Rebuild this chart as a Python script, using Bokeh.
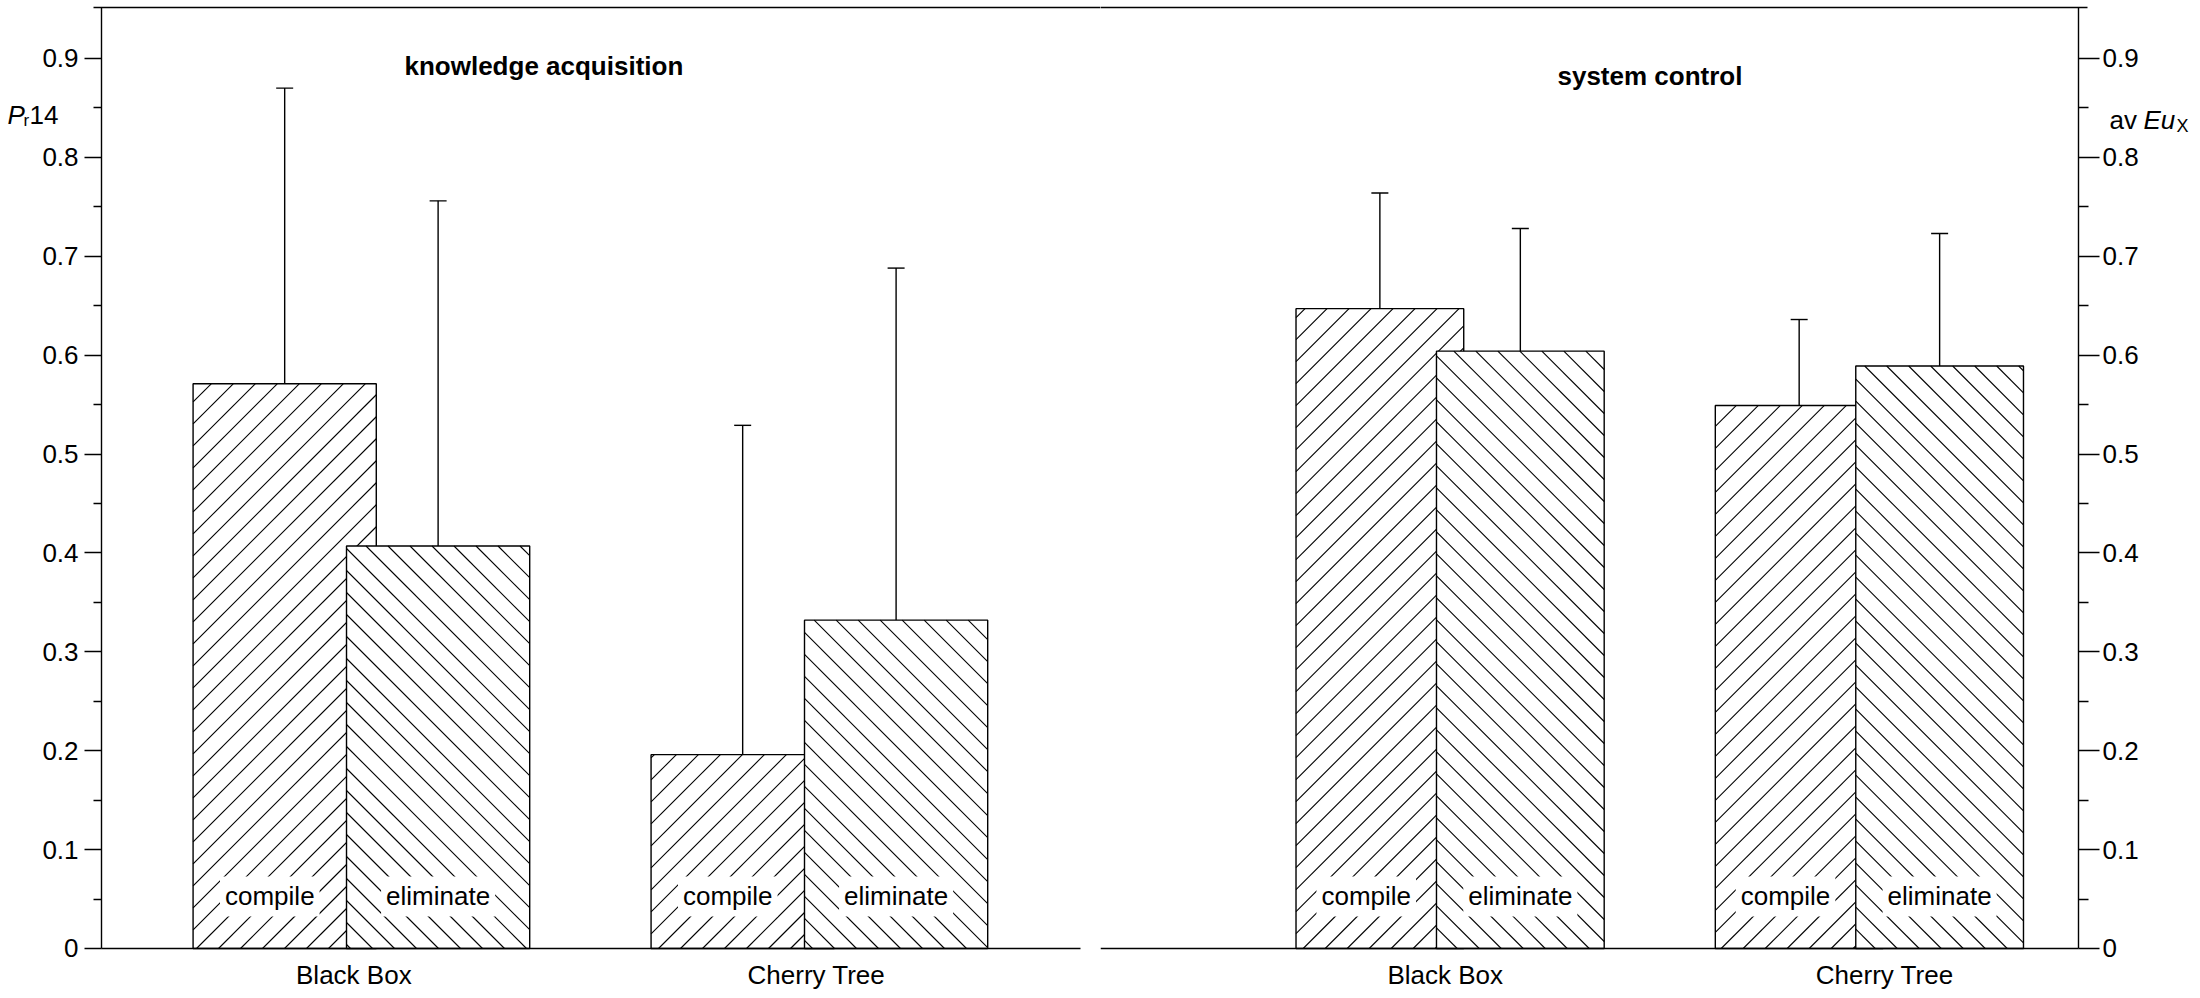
import math
from bokeh.plotting import figure
from bokeh.layouts import row
from bokeh.models import (Range1d, LinearAxis, FixedTicker, CustomJSTickFormatter,
                          ColumnDataSource, Whisker, TeeHead, Label)
from bokeh.embed import file_html
from bokeh.resources import INLINE

# ---------------- data ----------------
groups = ["Black Box", "Cherry Tree"]
conditions = ["compile", "eliminate"]
panels = ["knowledge acquisition", "system control"]

ka_compile = [0.571, 0.196]
ka_compile_upper = [0.870, 0.529]
ka_eliminate = [0.407, 0.332]
ka_eliminate_upper = [0.756, 0.688]

sc_compile = [0.647, 0.549]
sc_compile_upper = [0.764, 0.636]
sc_eliminate = [0.604, 0.589]
sc_eliminate_upper = [0.728, 0.723]

y_ticks = [0.0, 0.1, 0.2, 0.3, 0.4, 0.5, 0.6, 0.7, 0.8, 0.9]
y_tick_labels = ["0", "0.1", "0.2", "0.3", "0.4", "0.5", "0.6", "0.7", "0.8", "0.9"]
y_minor = [0.05, 0.15, 0.25, 0.35, 0.45, 0.55, 0.65, 0.75, 0.85]

FONT = "Liberation Sans"
FS = "26px"
BAR_W = 0.40
OFF_C = -0.135
OFF_E = 0.20
Y_START = -0.04247
Y_END = 0.9515
FRAME_H = 983
HATCH_SP = 22  # horizontal spacing of the 45-degree hatch lines, px
TXT_UP = 0.0075  # small upward nudge for text labels


def hatch_lines(lefts, tops, kx, ky, direction):
    """45-degree hatch segments clipped to each bar (bar extents from the data)."""
    x0, y0, x1, y1 = [], [], [], []
    sp = HATCH_SP
    for xl, t in zip(lefts, tops):
        X0, X1 = xl * kx, (xl + BAR_W) * kx
        Y0, Y1 = 0.0, t * ky
        if direction == "/":
            kmin = math.ceil((Y0 - X1) / sp)
            kmax = math.floor((Y1 - X0) / sp)
            for k in range(kmin, kmax + 1):
                c = k * sp
                xa, xb = max(X0, Y0 - c), min(X1, Y1 - c)
                if xb - xa > 0.5:
                    x0.append(xa / kx); y0.append((xa + c) / ky)
                    x1.append(xb / kx); y1.append((xb + c) / ky)
        else:
            kmin = math.ceil((X0 + Y0) / sp)
            kmax = math.floor((X1 + Y1) / sp)
            for k in range(kmin, kmax + 1):
                c = k * sp
                xa, xb = max(X0, c - Y1), min(X1, c - Y0)
                if xb - xa > 0.5:
                    x0.append(xa / kx); y0.append((c - xa) / ky)
                    x1.append(xb / kx); y1.append((c - xb) / ky)
    return dict(x0=x0, y0=y0, x1=x1, y1=y1)


def make_panel(title, comp, comp_up, elim, elim_up, xs, xe, fw, side,
               yaxis_at, xbounds, tbounds, tick_shift, title_x, title_y):
    p = figure(frame_width=fw, frame_height=FRAME_H,
               x_range=Range1d(xs, xe), y_range=Range1d(Y_START, Y_END),
               output_backend="svg", toolbar_location=None,
               x_axis_location=None, y_axis_location=None,
               min_border_left=0, min_border_right=0,
               min_border_top=7, min_border_bottom=0,
               outline_line_color=None, background_fill_color="white",
               border_fill_color="white")
    p.grid.grid_line_color = None
    kx = fw / (xe - xs)
    ky = FRAME_H / (Y_END - Y_START)

    # y axis, pinned at a fixed x position inside the frame
    yax = LinearAxis(
        ticker=FixedTicker(ticks=y_ticks, minor_ticks=y_minor),
        formatter=CustomJSTickFormatter(args=dict(labels=y_tick_labels),
                                        code="return labels[Math.round(tick*10)];"),
        fixed_location=yaxis_at, bounds=(0, Y_END))
    yax.axis_line_color = "black"
    yax.axis_line_width = 1.4
    yax.major_tick_line_color = "black"
    yax.minor_tick_line_color = "black"
    yax.major_tick_line_width = 1.4
    yax.minor_tick_line_width = 1.4
    yax.major_tick_in = 0
    yax.minor_tick_in = 0
    if side == "left":
        yax.major_tick_out = 17
        yax.minor_tick_out = 8
        yax.major_label_standoff = 6
    else:
        yax.major_tick_out = 21
        yax.minor_tick_out = 10
        yax.major_label_standoff = 3
    yax.major_label_text_font = FONT
    yax.major_label_text_font_size = FS
    yax.major_label_text_color = "black"
    p.add_layout(yax, side)

    # x axis (category labels), pinned at y = 0
    xt = [1 + tick_shift[0], 2 + tick_shift[1]]
    xax = LinearAxis(
        ticker=FixedTicker(ticks=xt, minor_ticks=[]),
        formatter=CustomJSTickFormatter(args=dict(labels=groups),
                                        code="return labels[Math.round(tick)-1];"),
        bounds=xbounds, fixed_location=0)
    xax.axis_line_color = "black"
    xax.axis_line_width = 1.4
    xax.major_tick_in = 0
    xax.major_tick_out = 0
    xax.minor_tick_in = 0
    xax.minor_tick_out = 0
    xax.major_label_standoff = 12
    xax.major_label_text_font = FONT
    xax.major_label_text_font_size = FS
    xax.major_label_text_color = "black"
    p.add_layout(xax, "below")

    # top border line
    tax = LinearAxis(ticker=FixedTicker(ticks=[], minor_ticks=[]), bounds=tbounds)
    tax.axis_line_color = "black"
    tax.axis_line_width = 1.4
    tax.major_tick_in = 0
    tax.major_tick_out = 0
    tax.minor_tick_in = 0
    tax.minor_tick_out = 0
    tax.major_label_text_font_size = "0px"
    tax.major_label_standoff = 0
    p.add_layout(tax, "above")

    gx = [1, 2]
    xc = [g + OFF_C for g in gx]
    xe_ = [g + OFF_E for g in gx]

    # compile bars (hatch "/"), then eliminate bars (hatch "\") drawn over them
    p.vbar(x=xc, width=BAR_W, bottom=0, top=comp, fill_color="white",
           line_color="black", line_width=1.4)
    p.segment(x0="x0", y0="y0", x1="x1", y1="y1", line_color="black", line_width=1.1,
              source=ColumnDataSource(hatch_lines([v - BAR_W / 2 for v in xc], comp,
                                                  kx, ky, "/")))
    p.vbar(x=xe_, width=BAR_W, bottom=0, top=elim, fill_color="white",
           line_color="black", line_width=1.4)
    p.segment(x0="x0", y0="y0", x1="x1", y1="y1", line_color="black", line_width=1.1,
              source=ColumnDataSource(hatch_lines([v - BAR_W / 2 for v in xe_], elim,
                                                  kx, ky, "\\")))

    for xs_, lo, up in ((xc, comp, comp_up), (xe_, elim, elim_up)):
        src = ColumnDataSource(dict(base=xs_, lower=lo, upper=up))
        w = Whisker(base="base", lower="lower", upper="upper", source=src,
                    line_color="black", line_width=1.4,
                    upper_head=TeeHead(size=17, line_color="black", line_width=1.4),
                    lower_head=None)
        p.add_layout(w)

    # condition labels inside bars (centred on the visible part of each bar)
    for g in gx:
        comp_left = g + OFF_C - BAR_W / 2
        for cname, cx in ((conditions[0], (comp_left + g) / 2),
                          (conditions[1], g + OFF_E)):
            p.add_layout(Label(x=cx, y=0.0526, text=cname, text_align="center",
                               text_baseline="alphabetic", text_font=FONT,
                               text_font_size=FS, text_color="black",
                               background_fill_color="white", padding=5))

    p.add_layout(Label(x=title_x, y=title_y + TXT_UP, text=title, text_align="left",
                       text_baseline="alphabetic", text_font=FONT,
                       text_font_size=FS, text_font_style="bold",
                       text_color="black"))
    return p


# left panel: knowledge acquisition (1 x-unit = 458 px)
L_XS = 0.2445
L_XE = 2.6463
left = make_panel(panels[0], ka_compile, ka_compile_upper, ka_eliminate,
                  ka_eliminate_upper, L_XS, L_XE, 1100, "left",
                  0.4651, (0.4651, 2.6026), (0.4476, L_XE),
                  (0.016, 0.026), 1.1266, 0.8847)

# right panel: system control (1 x-unit = 419.3 px)
R_XS = 0.1987
R_XE = 2.8031
right = make_panel(panels[1], sc_compile, sc_compile_upper, sc_eliminate,
                   sc_eliminate_upper, R_XS, R_XE, 1092, "right",
                   2.5312, (R_XS, 2.5312), (R_XS, 2.5527),
                   (0.021, 0.069), 1.2886, 0.8746)

# axis titles
for txt, off, yv, size, style in (("P", 7, 0.8352, FS, "italic"),
                                  ("r", 23, 0.8301, "17px", "normal"),
                                  ("14", 29, 0.8352, FS, "normal")):
    left.add_layout(Label(x=L_XS, y=yv + TXT_UP, x_offset=off, text=txt,
                          text_align="left", text_baseline="alphabetic",
                          text_font=FONT, text_font_size=size,
                          text_font_style=style, text_color="black"))

for txt, off, yv, size, style in (("av", 1009, 0.8301, FS, "normal"),
                                  ("Eu", 1043, 0.8301, FS, "italic"),
                                  ("X", 1076, 0.8241, "18px", "normal")):
    right.add_layout(Label(x=R_XS, y=yv + TXT_UP, x_offset=off, text=txt,
                           text_align="left", text_baseline="alphabetic",
                           text_font=FONT, text_font_size=size,
                           text_font_style=style, text_color="black"))

layout = row(left, right, spacing=0)

open("out.html", "w").write(file_html(layout, INLINE))
